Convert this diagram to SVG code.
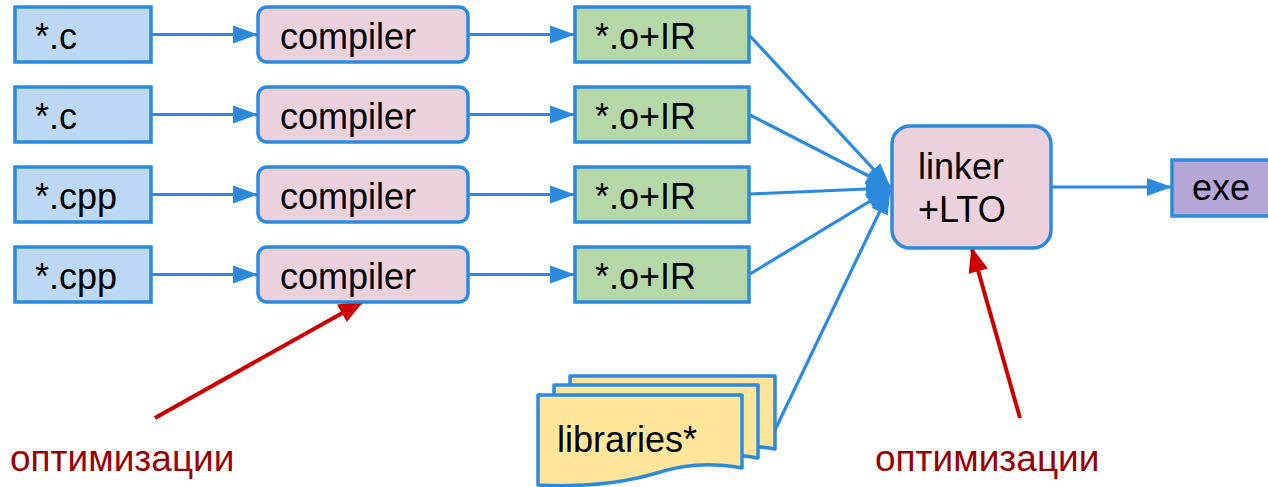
<svg xmlns="http://www.w3.org/2000/svg" width="1268" height="487" viewBox="0 0 1268 487">
<style>
text{font-family:"Liberation Sans",Arial,sans-serif;font-size:36px;fill:#000}
.src{fill:#bcd8f5;stroke:#2b8ade;stroke-width:3.5}
.cmp{fill:#ead1dc;stroke:#2b8ade;stroke-width:3.5}
.obj{fill:#b6d7a8;stroke:#2b8ade;stroke-width:3.5}
.exe{fill:#b4a7d6;stroke:#2b8ade;stroke-width:3.5}
.lib{fill:#ffe599;stroke:#2b8ade;stroke-width:3.5;stroke-linejoin:round}
.con{stroke:#2b8ade;stroke-width:3.2;fill:none;marker-end:url(#ab)}
.red{stroke:#cc0000;stroke-width:4;fill:none;marker-end:url(#ar)}
.note{fill:#990000;font-size:37px}
</style>
<defs>
<marker id="ab" markerUnits="userSpaceOnUse" markerWidth="26" markerHeight="18" refX="24" refY="9" orient="auto" overflow="visible"><path d="M0,0 L25,9 L0,18 z" fill="#2b8ade"/></marker>
<marker id="ar" markerUnits="userSpaceOnUse" markerWidth="26" markerHeight="20" refX="23" refY="10" orient="auto" overflow="visible"><path d="M0,0 L25,10 L0,20 z" fill="#cc0000"/></marker>
</defs>
<g id="connectors">
<line class="con" x1="152" y1="34.5" x2="257" y2="34.5"/>
<line class="con" x1="152" y1="114.5" x2="257" y2="114.5"/>
<line class="con" x1="152" y1="194.5" x2="257" y2="194.5"/>
<line class="con" x1="152" y1="274.5" x2="257" y2="274.5"/>
<line class="con" x1="468" y1="34.5" x2="574" y2="34.5"/>
<line class="con" x1="468" y1="114.5" x2="574" y2="114.5"/>
<line class="con" x1="468" y1="194.5" x2="574" y2="194.5"/>
<line class="con" x1="468" y1="274.5" x2="574" y2="274.5"/>
<line class="con" x1="750" y1="36" x2="890" y2="187"/>
<line class="con" x1="750" y1="115" x2="890" y2="187"/>
<line class="con" x1="750" y1="194" x2="890" y2="188"/>
<line class="con" x1="750" y1="274" x2="890" y2="189"/>
<line class="con" x1="775" y1="430" x2="890" y2="190"/>
<line class="con" x1="1051" y1="187" x2="1171" y2="187"/>
<line class="red" x1="155" y1="418" x2="362" y2="302"/>
<line class="red" x1="1020" y1="418" x2="972" y2="249"/>
</g>
<g id="src1"><rect class="src" x="15" y="7" width="136" height="55"/><text x="35" y="49">*.c</text></g>
<g id="src2"><rect class="src" x="15" y="87" width="136" height="55"/><text x="35" y="129">*.c</text></g>
<g id="src3"><rect class="src" x="15" y="167" width="136" height="55"/><text x="35" y="209">*.cpp</text></g>
<g id="src4"><rect class="src" x="15" y="247" width="136" height="55"/><text x="35" y="289">*.cpp</text></g>
<g id="cmp1"><rect class="cmp" x="258" y="7" width="210" height="55" rx="9"/><text x="280" y="49">compiler</text></g>
<g id="cmp2"><rect class="cmp" x="258" y="87" width="210" height="55" rx="9"/><text x="280" y="129">compiler</text></g>
<g id="cmp3"><rect class="cmp" x="258" y="167" width="210" height="55" rx="9"/><text x="280" y="209">compiler</text></g>
<g id="cmp4"><rect class="cmp" x="258" y="247" width="210" height="55" rx="9"/><text x="280" y="289">compiler</text></g>
<g id="obj1"><rect class="obj" x="575" y="7" width="174" height="55"/><text x="595" y="49">*.o+IR</text></g>
<g id="obj2"><rect class="obj" x="575" y="87" width="174" height="55"/><text x="595" y="129">*.o+IR</text></g>
<g id="obj3"><rect class="obj" x="575" y="167" width="174" height="55"/><text x="595" y="209">*.o+IR</text></g>
<g id="obj4"><rect class="obj" x="575" y="247" width="174" height="55"/><text x="595" y="289">*.o+IR</text></g>
<g id="linker"><rect class="cmp" x="892" y="126" width="159" height="122" rx="18"/><text x="918" y="179">linker</text><text x="918" y="222">+LTO</text></g>
<g id="exe"><rect class="exe" x="1172" y="160" width="110" height="56"/><text x="1192" y="200">exe</text></g>
<g id="libraries">
<path class="lib" d="M570,376 H775 V449 C740,443 715,446 690,454 C650,466 610,468 570,466 Z"/>
<path class="lib" d="M554,385 H758 V458 C723,452 698,455 673,463 C633,475 593,477 554,475 Z"/>
<path class="lib" d="M538,395 H742 V468 C707,462 682,465 657,473 C617,485 577,487 538,485 Z"/>
<text x="557" y="452">libraries*</text>
</g>
<g id="note1"><text class="note" x="10" y="471">оптимизации</text></g>
<g id="note2"><text class="note" x="875" y="471">оптимизации</text></g>
</svg>
